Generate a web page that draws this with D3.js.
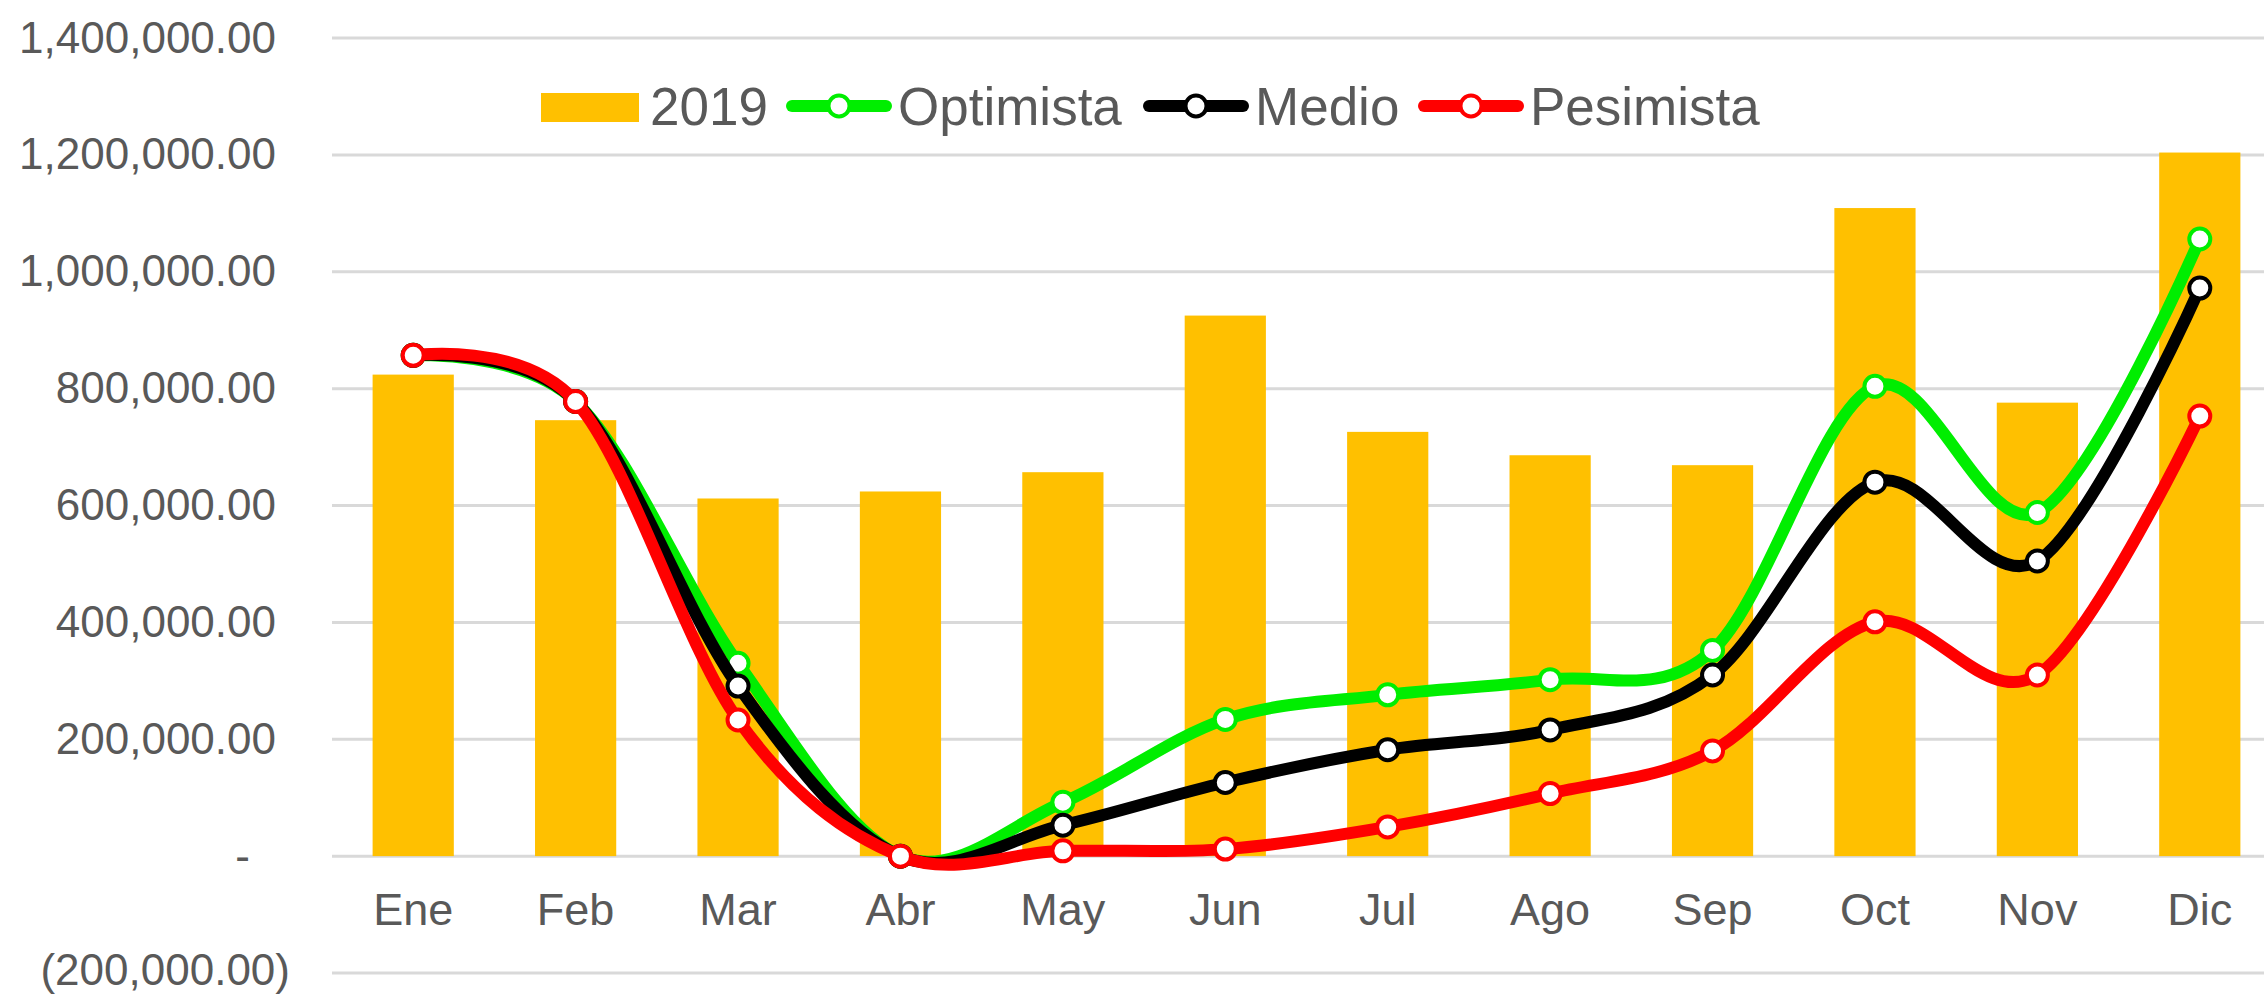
<!DOCTYPE html>
<html>
<head>
<meta charset="utf-8">
<script src="https://d3js.org/d3.v7.min.js"></script>
<style>
  html, body { margin: 0; padding: 0; background: #fff; }
  svg { display: block; font-family: "Liberation Sans", Arial, sans-serif; }
</style>
</head>
<body>
<svg id="chart"></svg>
<script>
var months = ["Ene", "Feb", "Mar", "Abr", "May", "Jun", "Jul", "Ago", "Sep", "Oct", "Nov", "Dic"];
var ventas2019 = [824000, 746000, 612000, 624000, 657000, 925000, 726000, 686000, 669000, 1109000, 776000, 1204000];
var optimista = [857000, 778000, 330000, 0, 92000, 234000, 276000, 302000, 352000, 804000, 588000, 1056000];
var medio = [857000, 778000, 291000, 0, 53000, 126000, 182000, 216000, 310000, 640000, 505000, 972000];
var pesimista = [857000, 778000, 233000, 0, 9000, 12000, 50000, 107000, 180000, 401000, 310000, 753000];
var yTicks = [-200000, 0, 200000, 400000, 600000, 800000, 1000000, 1200000, 1400000];

var width = 2264,
    height = 997;

var series = [
  {name: "Optimista", values: optimista, color: "#00ee00"},
  {name: "Medio", values: medio, color: "#000000"},
  {name: "Pesimista", values: pesimista, color: "#ff0000"}
];

var svg = d3.select("#chart")
  .attr("width", width)
  .attr("height", height);

var x = d3.scaleBand()
  .domain(months)
  .range([332, 2281])
  .paddingInner(0.5)
  .paddingOuter(0.25);

var y = d3.scaleLinear()
  .domain([-200000, 1400000])
  .range([973, 38]);

var fmt = d3.format(",.2f");

// gridlines
svg.append("g")
  .selectAll("line")
  .data(yTicks)
  .enter().append("line")
    .attr("x1", 332)
    .attr("x2", width)
    .attr("y1", function(d) { return y(d); })
    .attr("y2", function(d) { return y(d); })
    .style("stroke", "#d9d9d9")
    .style("stroke-width", 3);

// y labels, excel accounting style
svg.append("g")
  .selectAll("text")
  .data(yTicks)
  .enter().append("text")
    .attr("x", function(d) {
      if (d < 0) return 290;
      if (d == 0) return 250;
      return 276;
    })
    .attr("y", function(d) { return y(d); })
    .attr("dy", function(d) { return d < 0 ? "0.28em" : "0.33em"; })
    .attr("text-anchor", "end")
    .style("font-size", "44px")
    .style("fill", "#595959")
    .text(function(d) {
      if (d < 0) return "(" + fmt(-d) + ")";
      if (d == 0) return "-";
      return fmt(d);
    });

// bars
svg.append("g")
  .selectAll("rect")
  .data(ventas2019)
  .enter().append("rect")
    .attr("x", function(d, i) { return x(months[i]); })
    .attr("y", function(d) { return y(d); })
    .attr("width", x.bandwidth())
    .attr("height", function(d) { return y(0) - y(d); })
    .style("fill", "#ffc000");

// month labels
svg.append("g")
  .selectAll("text")
  .data(months)
  .enter().append("text")
    .attr("x", function(d) { return x(d) + x.bandwidth() / 2; })
    .attr("y", 925)
    .attr("text-anchor", "middle")
    .style("font-size", "45px")
    .style("fill", "#595959")
    .text(function(d) { return d; });

var line = d3.line()
  .x(function(d, i) { return x(months[i]) + x.bandwidth() / 2; })
  .y(function(d) { return y(d); })
  .curve(d3.curveCardinal.tension(0));

series.forEach(function(s) {
  var g = svg.append("g");
  g.append("path")
    .attr("d", line(s.values))
    .style("fill", "none")
    .style("stroke", s.color)
    .style("stroke-width", 12)
    .style("stroke-linecap", "round");
  g.selectAll("circle")
    .data(s.values)
    .enter().append("circle")
      .attr("cx", function(d, i) { return x(months[i]) + x.bandwidth() / 2; })
      .attr("cy", function(d) { return y(d); })
      .attr("r", 10.5)
      .style("fill", "#fff")
      .style("stroke", s.color)
      .style("stroke-width", 4);
});

// legend
var legend = svg.append("g").attr("class", "legend");
legend.append("rect")
  .attr("x", 541)
  .attr("y", 93)
  .attr("width", 98)
  .attr("height", 29)
  .style("fill", "#ffc000");
legend.append("text")
  .attr("x", 650)
  .attr("y", 106)
  .attr("dy", "0.36em")
  .style("font-size", "53px")
  .style("fill", "#595959")
  .text("2019");

var legendX = [786, 1143, 1418];
series.forEach(function(s, i) {
  var lx = legendX[i];
  legend.append("line")
    .attr("x1", lx + 6)
    .attr("x2", lx + 100)
    .attr("y1", 106)
    .attr("y2", 106)
    .style("stroke", s.color)
    .style("stroke-width", 12)
    .style("stroke-linecap", "round");
  legend.append("circle")
    .attr("cx", lx + 53)
    .attr("cy", 106)
    .attr("r", 10.5)
    .style("fill", "#fff")
    .style("stroke", s.color)
    .style("stroke-width", 4);
  legend.append("text")
    .attr("x", lx + 112)
    .attr("y", 106)
    .attr("dy", "0.36em")
    .style("font-size", "53px")
    .style("fill", "#595959")
    .text(s.name);
});
</script>
</body>
</html>
